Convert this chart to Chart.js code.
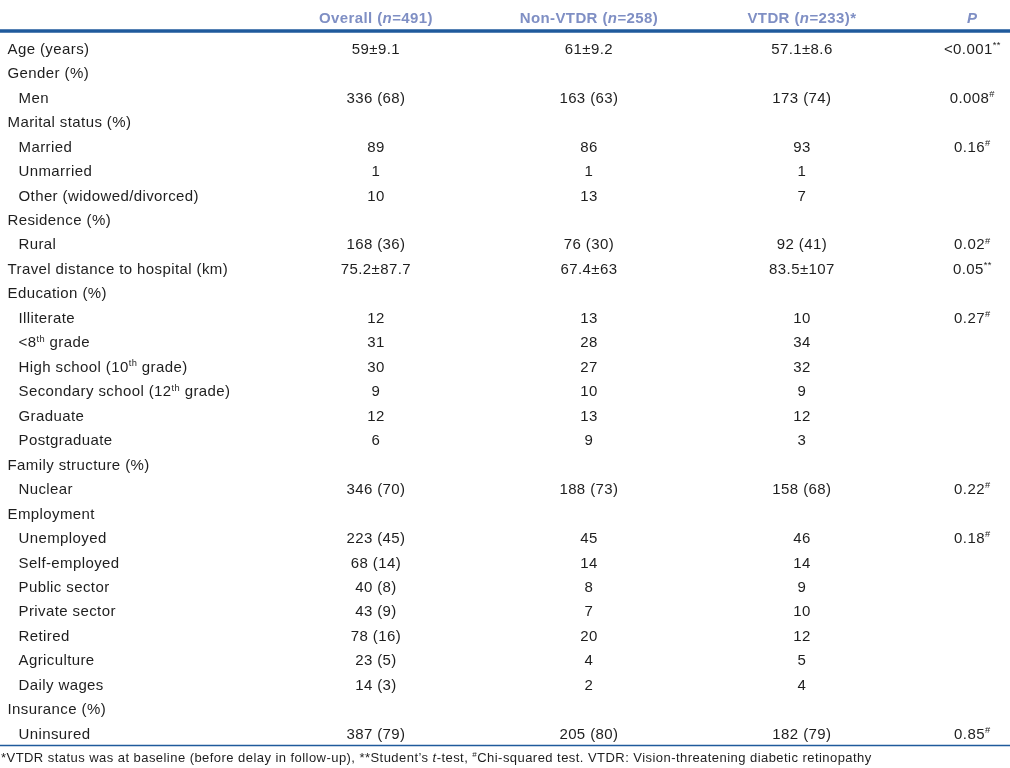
<!DOCTYPE html>
<html>
<head>
<meta charset="utf-8">
<script src="https://cdn.jsdelivr.net/npm/chart.js@4.4.1/dist/chart.umd.min.js"></script>
<style>
  html, body { margin: 0; padding: 0; background: #fff; }
  canvas { display: block; }
</style>
</head>
<body>
<canvas id="tabla" width="1010" height="768"></canvas>
<script>
// Datos de la tabla: ^x^ = superíndice, ~x~ = cursiva
const encabezados = ["Overall (~n~=491)", "Non-VTDR (~n~=258)", "VTDR (~n~=233)*", "~P~"];

// dos espacios al inicio = subcategoría
const filas = [
    "Age (years)", "Gender (%)", "  Men", "Marital status (%)", "  Married", "  Unmarried",
    "  Other (widowed/divorced)", "Residence (%)", "  Rural", "Travel distance to hospital (km)",
    "Education (%)", "  Illiterate", "  <8^th^ grade", "  High school (10^th^ grade)",
    "  Secondary school (12^th^ grade)", "  Graduate", "  Postgraduate", "Family structure (%)",
    "  Nuclear", "Employment", "  Unemployed", "  Self-employed", "  Public sector",
    "  Private sector", "  Retired", "  Agriculture", "  Daily wages", "Insurance (%)", "  Uninsured"
];

const overall = ["59±9.1", "", "336 (68)", "", "89", "1", "10", "", "168 (36)", "75.2±87.7",
    "", "12", "31", "30", "9", "12", "6", "", "346 (70)", "", "223 (45)", "68 (14)", "40 (8)",
    "43 (9)", "78 (16)", "23 (5)", "14 (3)", "", "387 (79)"];

const noVtdr = ["61±9.2", "", "163 (63)", "", "86", "1", "13", "", "76 (30)", "67.4±63",
    "", "13", "28", "27", "10", "13", "9", "", "188 (73)", "", "45", "14", "8",
    "7", "20", "4", "2", "", "205 (80)"];

const vtdr = ["57.1±8.6", "", "173 (74)", "", "93", "1", "7", "", "92 (41)", "83.5±107",
    "", "10", "34", "32", "9", "12", "3", "", "158 (68)", "", "46", "14", "9",
    "10", "12", "5", "4", "", "182 (79)"];

const valoresP = ["<0.001^**^", "", "0.008^#^", "", "0.16^#^", "", "", "", "0.02^#^", "0.05^**^",
    "", "0.27^#^", "", "", "", "", "", "", "0.22^#^", "", "0.18^#^", "", "", "",
    "", "", "", "", "0.85^#^"];

const notaPie = "*VTDR status was at baseline (before delay in follow-up), **Student’s ~t~-test, ^#^Chi-squared test. VTDR: Vision-threatening diabetic retinopathy";

// posición de cada columna en el eje x
const posColumnas = [1, 2, 3, 3.8];

const FUENTE = "'Liberation Sans', Arial, Helvetica, sans-serif";
const COLOR_TEXTO = "#1e1e1e";
const COLOR_CABECERA = "#7f8fc4";
const COLOR_LINEA = "#1f5a9c";

// Separa el texto en segmentos normales / superíndice / cursiva
function segmentos(texto) {
    const partes = [];
    let modo = "n", actual = "";
    for (const c of texto) {
        if (c === "^" || c === "~") {
            if (actual) partes.push({ t: actual, m: modo });
            actual = "";
            const nuevo = c === "^" ? "s" : "i";
            modo = modo === nuevo ? "n" : nuevo;
        } else {
            actual += c;
        }
    }
    if (actual) partes.push({ t: actual, m: modo });
    return partes;
}

function fuenteDe(m, size, bold) {
    const b = bold ? "bold " : "";
    if (m === "s") return b + (size * 0.62).toFixed(1) + "px " + FUENTE;
    if (m === "i") return "italic " + b + size + "px " + FUENTE;
    return b + size + "px " + FUENTE;
}

function dibujarTexto(ctx, texto, x, y, alinear, size, bold, color, espaciado) {
    const partes = segmentos(texto);
    ctx.letterSpacing = (espaciado || 0) + "px";
    let ancho = 0;
    partes.forEach(p => {
        ctx.font = fuenteDe(p.m, size, bold);
        p.w = ctx.measureText(p.t).width;
        ancho += p.w;
    });
    let cx = x;
    if (alinear === "center") cx = x - ancho / 2;
    else if (alinear === "right") cx = x - ancho;
    ctx.fillStyle = color;
    ctx.textAlign = "left";
    ctx.textBaseline = "alphabetic";
    partes.forEach(p => {
        ctx.font = fuenteDe(p.m, size, bold);
        const dy = p.m === "s" ? -size * 0.38 : 0;
        ctx.fillText(p.t, cx, y + dy);
        cx += p.w;
    });
    ctx.letterSpacing = "0px";
}

const pluginTabla = {
    id: "pluginTabla",
    afterDraw(chart) {
        const ctx = chart.ctx;
        const ejeX = chart.scales.x;
        const ejeY = chart.scales.y;
        const area = chart.chartArea;
        ctx.save();

        // cabecera
        encabezados.forEach((h, i) => {
            dibujarTexto(ctx, h, ejeX.getPixelForValue(posColumnas[i]), area.top - 13,
                "center", 15, true, COLOR_CABECERA, 0.4);
        });

        ctx.strokeStyle = COLOR_LINEA;
        ctx.lineWidth = 3.5;
        ctx.beginPath();
        ctx.moveTo(0, area.top - 5);
        ctx.lineTo(chart.width, area.top - 5);
        ctx.stroke();

        // filas
        const columnas = [overall, noVtdr, vtdr, valoresP];
        filas.forEach((etiqueta, r) => {
            const yBase = ejeY.getPixelForValue(r) + 5.5;
            const sub = etiqueta.startsWith("  ");
            dibujarTexto(ctx, etiqueta.trim(), area.left + (sub ? 18.5 : 7.5), yBase,
                "left", 15, false, COLOR_TEXTO, 0.4);
            columnas.forEach((col, c) => {
                if (col[r]) {
                    dibujarTexto(ctx, col[r], ejeX.getPixelForValue(posColumnas[c]), yBase,
                        "center", 15, false, COLOR_TEXTO, 0.4);
                }
            });
        });

        // pie
        ctx.strokeStyle = COLOR_LINEA;
        ctx.lineWidth = 1.5;
        ctx.beginPath();
        ctx.moveTo(0, area.bottom);
        ctx.lineTo(chart.width, area.bottom);
        ctx.stroke();

        dibujarTexto(ctx, notaPie, area.left + 1, area.bottom + 16, "left", 13, false, COLOR_TEXTO, 0.45);
        ctx.restore();
    }
};

new Chart(document.getElementById("tabla"), {
    type: "scatter",
    data: { labels: filas, datasets: [] },
    options: {
        responsive: false,
        animation: false,
        layout: { padding: { top: 36, bottom: 22.5, left: 0, right: 0 } },
        plugins: { legend: { display: false }, tooltip: { enabled: false } },
        scales: {
            x: { type: "linear", display: false, min: -0.765, max: 3.977 },
            y: { type: "category", labels: filas, offset: true, display: false }
        }
    },
    plugins: [pluginTabla]
});
</script>
</body>
</html>
